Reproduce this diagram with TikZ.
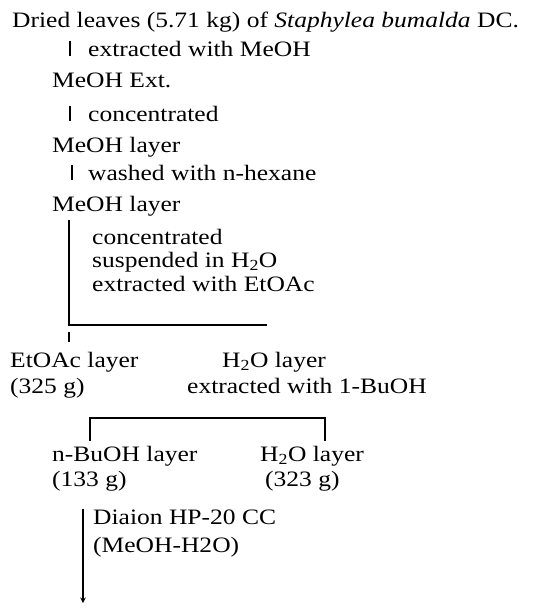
\documentclass[tikz,border=0pt]{standalone}
\usepackage{fontspec}
\setmainfont{Liberation Serif}[FakeStretch=1.16]
\begin{document}
\begin{tikzpicture}[x=1pt,y=-1pt,line cap=butt,>=stealth,
	txt/.style={anchor=base west,inner sep=0pt,font=\fontsize{22}{26}\selectfont},
	bar/.style={line width=1.4pt}]
	\useasboundingbox (0,0) rectangle (540,608);
	\path 
	(69,220) coordinate (V)
	(69,325) coordinate (J)
	(267,325) coordinate (J1)
	(69,332) coordinate (T)
	(69,342) coordinate (T1)
	(90,441) coordinate (K)
	(90,418) coordinate (K1)
	(325,418) coordinate (K2)
	(325,441) coordinate (K3)
	(83,509) coordinate (D)
	(83,603) coordinate (D1)
	;
	\node[txt] (leaves) at (12,27) {Dried leaves (5.71 kg) of \textit{Staphylea bumalda} DC.};
	\node[txt] (step1) at (88,56) {extracted with MeOH};
	\node[txt] (ext) at (52,87) {MeOH Ext.};
	\node[txt] (step2) at (88,121) {concentrated};
	\node[txt] (layer1) at (52,152) {MeOH layer};
	\node[txt] (step3) at (88,180) {washed with n-hexane};
	\node[txt] (layer2) at (52,211) {MeOH layer};
	\node[txt] (step4) at (92,244) {concentrated};
	\node[txt] (step5) at (92,267) {suspended in H\textsubscript{2}O};
	\node[txt] (step6) at (92,291) {extracted with EtOAc};
	\node[txt] (etoac) at (10,367) {EtOAc layer};
	\node[txt] (water1) at (222,367) {H\textsubscript{2}O layer};
	\node[txt] (etoacw) at (10,393) {(325 g)};
	\node[txt] (step7) at (187,393) {extracted with 1-BuOH};
	\node[txt] (buoh) at (52,461) {n-BuOH layer};
	\node[txt] (water2) at (260,461) {H\textsubscript{2}O layer};
	\node[txt] (buohw) at (52,486) {(133 g)};
	\node[txt] (water2w) at (265,486) {(323 g)};
	\node[txt] (step8) at (93,524) {Diaion HP-20 CC};
	\node[txt] (step9) at (93,552) {(MeOH-H2O)};
	\draw[bar] ([xshift=-18pt]step1.north west) -- ([xshift=-18pt]step1.south west);
	\draw[bar] ([xshift=-18pt]step2.north west) -- ([xshift=-18pt]step2.south west);
	\draw[bar] ([xshift=-16pt]step3.north west) -- ([xshift=-16pt]step3.south west);
	\draw[bar] (V)--(J)--(J1);
	\draw[bar] (T)--(T1);
	\draw[bar] (K)--(K1)--(K2)--(K3);
	\draw[bar,->] (D)--(D1);
\end{tikzpicture}
\end{document}
